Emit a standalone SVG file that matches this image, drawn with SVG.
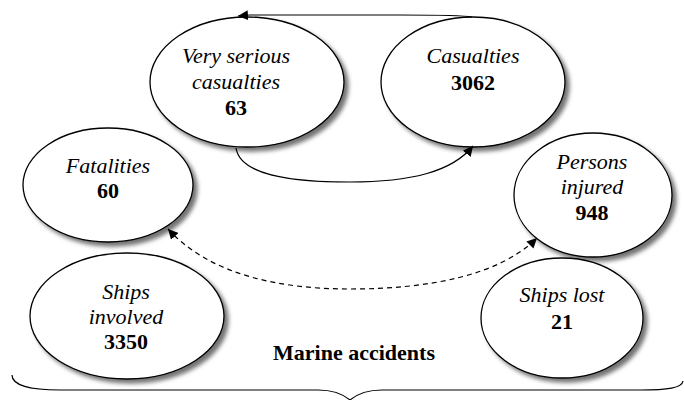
<svg xmlns="http://www.w3.org/2000/svg" width="684" height="400" viewBox="0 0 684 400">
<defs>
<filter id="sh" x="-10%" y="-10%" width="125%" height="130%">
<feDropShadow dx="4" dy="4" stdDeviation="2" flood-color="#000" flood-opacity="0.55"/>
</filter>
<marker id="ah" viewBox="0 0 10 10" refX="10" refY="5" markerWidth="10" markerHeight="10" markerUnits="userSpaceOnUse" orient="auto-start-reverse">
<path d="M0,0 L10,5 L0,10 z" fill="#000"/>
</marker>
<style>
.n ellipse{fill:#fff;stroke:#000;stroke-width:1.3;filter:url(#sh)}
text{font-family:'Liberation Serif','Times New Roman','DejaVu Serif',serif;font-size:22px;text-anchor:middle;fill:#000}
.i{font-style:italic}
.b{font-weight:bold}
.c{fill:none;stroke:#000;stroke-width:1.2}
.d{stroke-dasharray:5,4}
</style>
</defs>
<rect width="684" height="400" fill="#fff"/>
<g font-family="Liberation Serif, Times New Roman, serif">
<g id="very-serious" class="n">
<ellipse cx="247" cy="82" rx="97" ry="65"/>
<text class="i" x="236" y="63">Very serious</text>
<text class="i" x="236" y="89">casualties</text>
<text class="b" x="236" y="115">63</text>
</g>
<g id="casualties" class="n">
<ellipse cx="473" cy="82" rx="92" ry="65"/>
<text class="i" x="473" y="63">Casualties</text>
<text class="b" x="473" y="90">3062</text>
</g>
<g id="fatalities" class="n">
<ellipse cx="108" cy="185" rx="85" ry="57"/>
<text class="i" x="108" y="173">Fatalities</text>
<text class="b" x="108" y="198">60</text>
</g>
<g id="persons-injured" class="n">
<ellipse cx="593" cy="195" rx="79" ry="62"/>
<text class="i" x="592" y="169">Persons</text>
<text class="i" x="592" y="194">injured</text>
<text class="b" x="592" y="220">948</text>
</g>
<g id="ships-involved" class="n">
<ellipse cx="127" cy="316" rx="97" ry="63"/>
<text class="i" x="126" y="299">Ships</text>
<text class="i" x="126" y="324">involved</text>
<text class="b" x="126" y="349">3350</text>
</g>
<g id="ships-lost" class="n">
<ellipse cx="562" cy="318" rx="81" ry="60"/>
<text class="i" x="562" y="302">Ships lost</text>
<text class="b" x="562" y="329">21</text>
</g>
<g id="marine-accidents">
<text class="b" x="354" y="360">Marine accidents</text>
<path class="c" d="M12,375 C12,385 30,390 60,390 L318,390 C334,390 344,395 350,400 C356,395 366,390 382,390 L640,390 C668,390 682,388 683,381"/>
</g>
</g>
<g id="connectors">
<path class="c" d="M472,17 C462,15 440,15 400,15 L250,15 L238,16" marker-end="url(#ah)"/>
<path class="c" d="M236,148 C240,175 290,182 350,182 C410,182 452,172 473,146" marker-end="url(#ah)"/>
<path class="c d" d="M168,229 C210,275 280,289 350,289 C430,289 500,275 537,238" marker-start="url(#ah)" marker-end="url(#ah)"/>
</g>
</svg>
